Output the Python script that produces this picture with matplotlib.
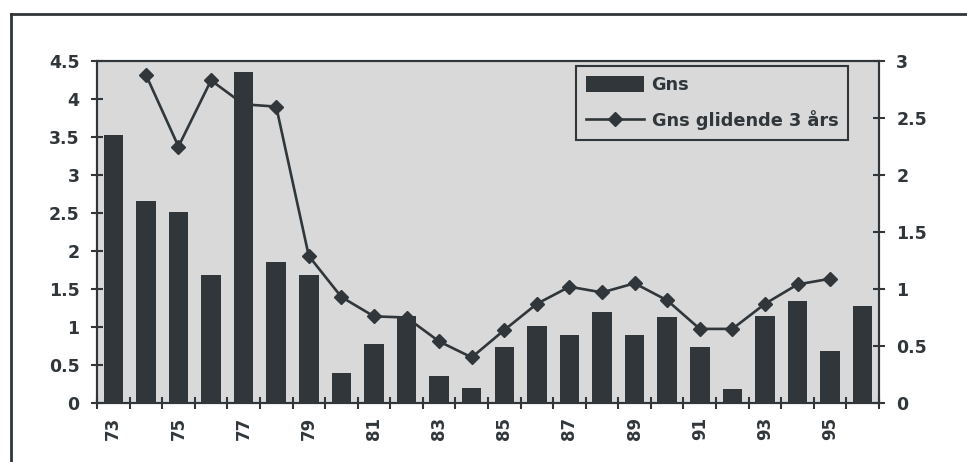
import numpy as np
import matplotlib.pyplot as plt
from matplotlib.lines import Line2D

# DATA
years = ['73', '74', '75', '76', '77', '78', '79', '80', '81', '82', '83', '84',
         '85', '86', '87', '88', '89', '90', '91', '92', '93', '94', '95', '96']
gns = [3.52, 2.66, 2.51, 1.69, 4.36, 1.85, 1.69, 0.40, 0.78, 1.15, 0.35, 0.20,
       0.74, 1.01, 0.89, 1.20, 0.90, 1.13, 0.74, 0.18, 1.15, 1.34, 0.68, 1.27]
# 3 year moving average (right axis), 74..95
glid_years = years[1:23]
glid = [2.88, 2.25, 2.83, 2.62, 2.60, 1.29, 0.93, 0.76, 0.75, 0.54, 0.40,
        0.64, 0.87, 1.02, 0.97, 1.05, 0.90, 0.65, 0.65, 0.87, 1.04, 1.09]

left_ticks = [0, 0.5, 1, 1.5, 2, 2.5, 3, 3.5, 4, 4.5]
right_ticks = [0, 0.5, 1, 1.5, 2, 2.5, 3]

dark = '#30363a'
bg = '#d9d9d9'

plt.rcParams['font.family'] = ['DejaVu Sans']
plt.rcParams['font.weight'] = 'bold'
W, H = 967, 462
fig = plt.figure(figsize=(W / 100, H / 100), dpi=100)

# outer frame (top and left edges visible)
fig.add_artist(Line2D([11 / W, 1.0], [1 - 14 / H, 1 - 14 / H], color=dark, lw=2))
fig.add_artist(Line2D([11 / W, 11 / W], [1 - 14 / H, 0.0], color=dark, lw=2))

ax = fig.add_axes([97 / W, 1 - 403 / H, (879 - 97) / W, (403 - 61) / H])
ax.set_facecolor(bg)
x = np.arange(len(years))
bars = ax.bar(x, gns, width=0.6, color=dark, label='Gns', zorder=2)
ax.set_xlim(-0.5, len(years) - 0.5)
ax.set_ylim(0, 4.5)
ax.set_yticks(left_ticks)
ax.set_yticklabels([f'{v:g}' for v in left_ticks])

# tick marks at category borders, labels on every other category
ax.set_xticks(np.arange(-0.5, len(years)))
ax.set_xticklabels([])
ax.set_xticks(x[::2], minor=True)
ax.set_xticklabels(years[::2], minor=True, rotation=90, ha='center', va='top')
ax.tick_params(axis='x', which='major', direction='inout', length=8, width=1.5, color=dark)
ax.tick_params(axis='x', which='minor', length=0, pad=10, labelsize=12, labelcolor=dark)
ax.tick_params(axis='y', direction='inout', length=9, width=1.5, color=dark,
               pad=8, labelsize=12.5, labelcolor=dark)
for s in ax.spines.values():
    s.set_color(dark)
    s.set_linewidth(1.5)

ax2 = ax.twinx()
gx = [years.index(y) for y in glid_years]
line, = ax2.plot(gx, glid, color=dark, lw=1.9, marker='D', markersize=7,
                 label='Gns glidende 3 års', zorder=3)
ax2.set_ylim(0, 3)
ax2.set_yticks(right_ticks)
ax2.set_yticklabels([f'{v:g}' for v in right_ticks])
ax2.tick_params(axis='y', direction='inout', length=9, width=1.5, color=dark,
                pad=8, labelsize=12.5, labelcolor=dark)
for s in ax2.spines.values():
    s.set_color(dark)
    s.set_linewidth(1.5)

leg = ax2.legend([bars, line], ['Gns', 'Gns glidende 3 års'],
                 loc='upper left', bbox_to_anchor=(576 / W, 1 - 66 / H),
                 bbox_transform=fig.transFigure, borderaxespad=0,
                 fontsize=12.8, handlelength=3.3, handleheight=1.0,
                 handletextpad=0.4, labelspacing=0.9, borderpad=0.55,
                 fancybox=False, framealpha=1, facecolor=bg, edgecolor=dark)
leg.get_frame().set_linewidth(1.5)
for t in leg.get_texts():
    t.set_color(dark)

plt.savefig('out.png', dpi=100)
